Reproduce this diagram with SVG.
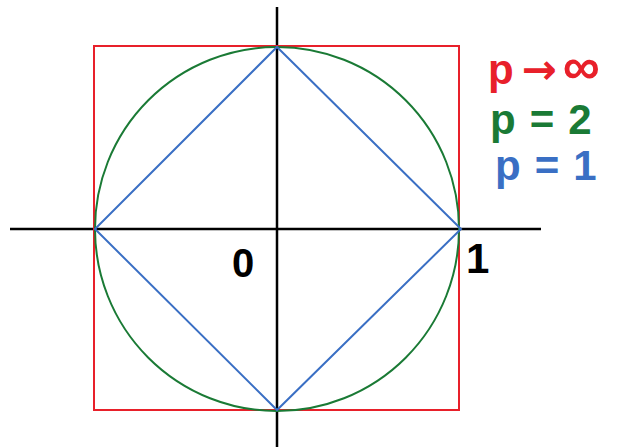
<svg xmlns="http://www.w3.org/2000/svg" width="620" height="447" viewBox="0 0 620 447">
<style>
.ax{stroke:#000;stroke-width:2.5;fill:none}
.sq{stroke:#e8202a;stroke-width:2;fill:none}
.ci{stroke:#1a7a35;stroke-width:2;fill:none}
.di{stroke:#3a6fc4;stroke-width:2;fill:none}
.lbl{font-family:"Liberation Sans","DejaVu Sans",sans-serif;font-weight:bold}
.arr{font-family:"DejaVu Sans",sans-serif;font-weight:bold}
</style>
<rect width="620" height="447" fill="#fff"/>
<g id="axes">
<line class="ax" x1="10" y1="229" x2="541" y2="229"/>
<line class="ax" x1="277" y1="7" x2="277" y2="447"/>
</g>
<g id="square"><rect class="sq" x="94" y="46" width="365" height="364"/></g>
<g id="circle"><circle class="ci" cx="277" cy="229" r="182"/></g>
<g id="diamond"><polygon class="di" points="277,47 461,229 277,410 95,229"/></g>
<g id="labels">
<text class="lbl" x="488" y="84" font-size="42" fill="#e8202a">p<tspan class="arr" font-size="42" dx="8">→</tspan><tspan font-size="52" dx="6">∞</tspan></text>
<text class="lbl" x="490" y="134" font-size="42" letter-spacing="14" fill="#1a7a35">p=2</text>
<text class="lbl" x="495" y="180" font-size="42" letter-spacing="14" fill="#3a6fc4">p=1</text>
<text class="lbl" x="232" y="277" font-size="40" fill="#000">0</text>
<text class="lbl" x="466" y="273" font-size="42" fill="#000">1</text>
</g>
</svg>
